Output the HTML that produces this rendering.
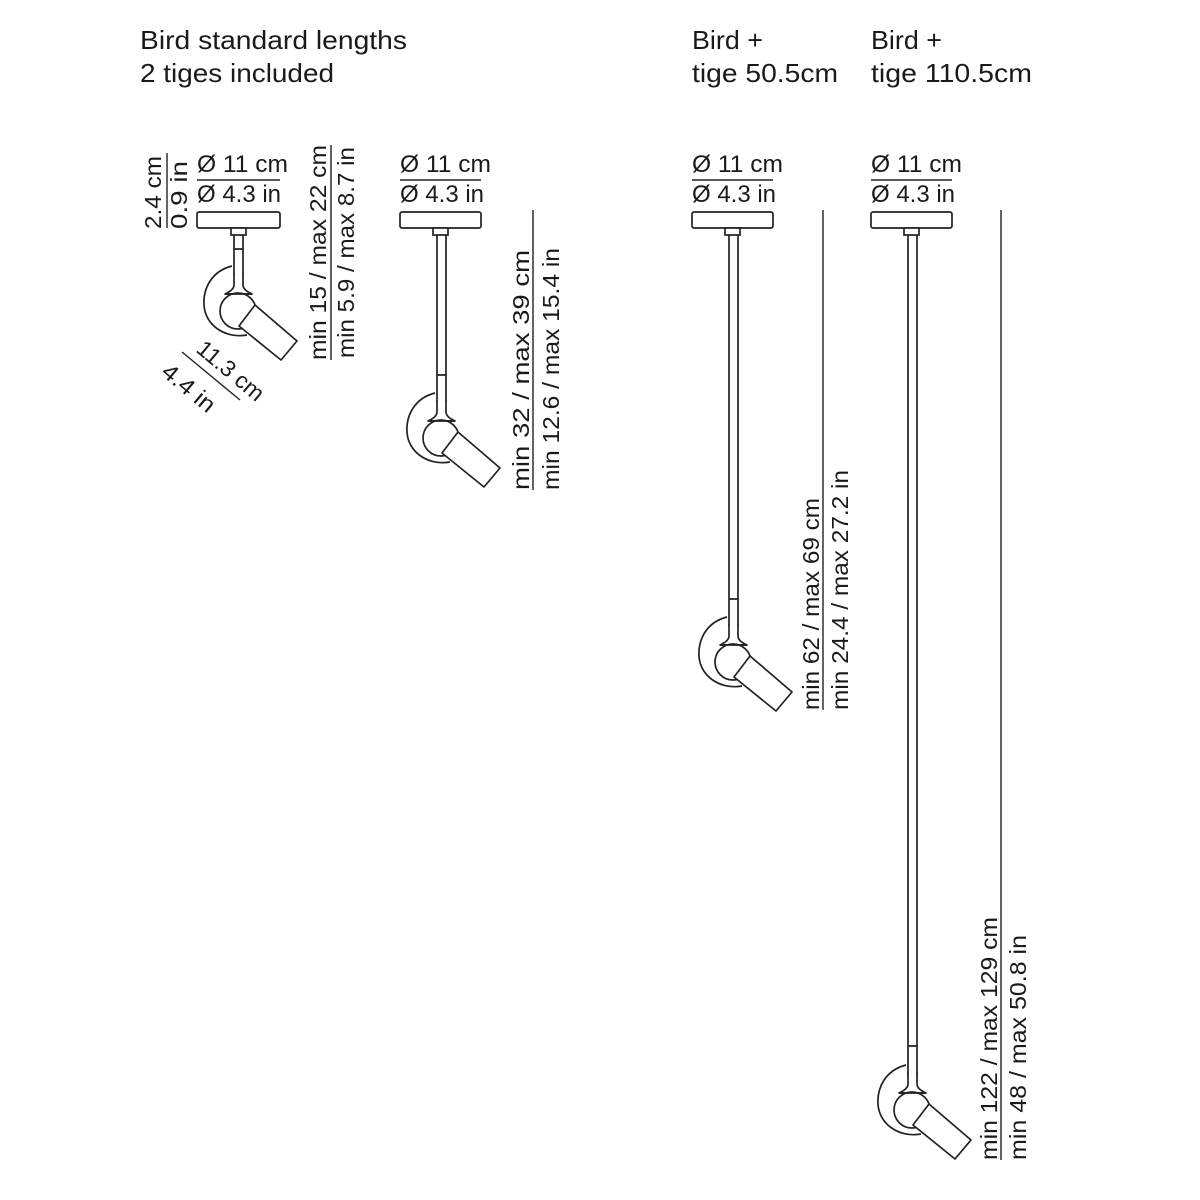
<!DOCTYPE html>
<html><head><meta charset="utf-8"><style>
html,body{margin:0;padding:0;background:#fff}
svg{display:block}
text{font-family:"Liberation Sans",sans-serif;fill:#1a1a1a}
</style></head><body>
<svg width="1200" height="1200" viewBox="0 0 1200 1200" xmlns="http://www.w3.org/2000/svg">
<defs>
<g id="head" fill="#fff" stroke="#222" stroke-width="1.7" stroke-linejoin="round">
  <path d="M45,33 C25,38 16,55 17,72 C18,92 38,106 60,102" fill="none"/>
  <path d="M47,40 L47,52 Q47,57 38,61 L65,61 Q56,57 56,52 L56,40" />
  <circle cx="51" cy="78" r="18"/>
  <line x1="38" y1="61" x2="65" y2="61"/>
  <polygon points="68,72 110,108 94,127 52,93"/>
</g>
</defs>

<g font-size="26">
<text x="140" y="49" textLength="267" lengthAdjust="spacingAndGlyphs">Bird standard lengths</text>
<text x="140" y="82" textLength="194" lengthAdjust="spacingAndGlyphs">2 tiges included</text>
<text x="692" y="49" textLength="71" lengthAdjust="spacingAndGlyphs">Bird +</text>
<text x="692" y="82" textLength="146" lengthAdjust="spacingAndGlyphs">tige 50.5cm</text>
<text x="871" y="49" textLength="71" lengthAdjust="spacingAndGlyphs">Bird +</text>
<text x="871" y="82" textLength="161" lengthAdjust="spacingAndGlyphs">tige 110.5cm</text>
</g>

<g stroke="#222" stroke-width="1.4">
  <line x1="197" y1="180" x2="280" y2="180"/>
  <line x1="400" y1="180" x2="481" y2="180"/>
  <line x1="692" y1="180" x2="773" y2="180"/>
  <line x1="871" y1="180" x2="952" y2="180"/>
</g>
<g font-size="24">
<text x="197" y="172" textLength="91" lengthAdjust="spacingAndGlyphs">Ø 11 cm</text><text x="197" y="202" textLength="84" lengthAdjust="spacingAndGlyphs">Ø 4.3 in</text>
<text x="400" y="172" textLength="91" lengthAdjust="spacingAndGlyphs">Ø 11 cm</text><text x="400" y="202" textLength="84" lengthAdjust="spacingAndGlyphs">Ø 4.3 in</text>
<text x="692" y="172" textLength="91" lengthAdjust="spacingAndGlyphs">Ø 11 cm</text><text x="692" y="202" textLength="84" lengthAdjust="spacingAndGlyphs">Ø 4.3 in</text>
<text x="871" y="172" textLength="91" lengthAdjust="spacingAndGlyphs">Ø 11 cm</text><text x="871" y="202" textLength="84" lengthAdjust="spacingAndGlyphs">Ø 4.3 in</text>
</g>

<g fill="#fff" stroke="#222" stroke-width="1.7">
  <rect x="197" y="212" width="83" height="16" rx="2"/>
  <rect x="400" y="212" width="81" height="16" rx="2"/>
  <rect x="692" y="212" width="81" height="16" rx="2"/>
  <rect x="871" y="212" width="81" height="16" rx="2"/>
  <rect x="231" y="228" width="15" height="7"/>
  <rect x="433" y="228" width="15" height="7"/>
  <rect x="725" y="228" width="15" height="7"/>
  <rect x="904" y="228" width="15" height="7"/>
  <path d="M234,235 V275 M243,235 V275 M234,249 H243" fill="none"/>
  <path d="M437,235 V402 M446,235 V402 M437,375 H446" fill="none"/>
  <path d="M729,235 V626 M738,235 V626 M729,599 H738" fill="none"/>
  <path d="M908,235 V1075 M917,235 V1075 M908,1046 H917" fill="none"/>
</g>
<use href="#head" transform="translate(187,233)"/>
<use href="#head" transform="translate(390,360)"/>
<use href="#head" transform="translate(682,584)"/>
<use href="#head" transform="translate(861,1032)"/>

<g stroke="#222" stroke-width="1.4">
  <line x1="167" y1="153" x2="167" y2="228"/>
  <line x1="331" y1="145" x2="331" y2="360"/>
  <line x1="533" y1="210" x2="533" y2="490"/>
  <line x1="823" y1="210" x2="823" y2="710"/>
  <line x1="1001" y1="210" x2="1001" y2="1160"/>
  <line x1="182" y1="352" x2="240" y2="400"/>
</g>

<g font-size="23">
  <text transform="translate(161,229) rotate(-90)" textLength="73" lengthAdjust="spacingAndGlyphs">2.4 cm</text>
  <text transform="translate(187,229) rotate(-90)" textLength="68" lengthAdjust="spacingAndGlyphs">0.9 in</text>
  <text transform="translate(326,360) rotate(-90)" textLength="215" lengthAdjust="spacingAndGlyphs">min 15 / max 22 cm</text>
  <text transform="translate(354,358) rotate(-90)" textLength="211" lengthAdjust="spacingAndGlyphs">min 5.9 / max 8.7 in</text>
  <text transform="translate(529,490) rotate(-90)" textLength="240" lengthAdjust="spacingAndGlyphs">min 32 / max 39 cm</text>
  <text transform="translate(559,490) rotate(-90)" textLength="242" lengthAdjust="spacingAndGlyphs">min 12.6 / max 15.4 in</text>
  <text transform="translate(819,710) rotate(-90)" textLength="212" lengthAdjust="spacingAndGlyphs">min 62 / max 69 cm</text>
  <text transform="translate(848,710) rotate(-90)" textLength="240" lengthAdjust="spacingAndGlyphs">min 24.4 / max 27.2 in</text>
  <text transform="translate(997,1160) rotate(-90)" textLength="243" lengthAdjust="spacingAndGlyphs">min 122 / max 129 cm</text>
  <text transform="translate(1026,1160) rotate(-90)" textLength="225" lengthAdjust="spacingAndGlyphs">min 48 / max 50.8 in</text>
  <text transform="translate(195,351) rotate(40)" textLength="80" lengthAdjust="spacingAndGlyphs">11.3 cm</text>
  <text transform="translate(160,374) rotate(40)" textLength="62" lengthAdjust="spacingAndGlyphs">4.4 in</text>
</g>
</svg>
</body></html>
